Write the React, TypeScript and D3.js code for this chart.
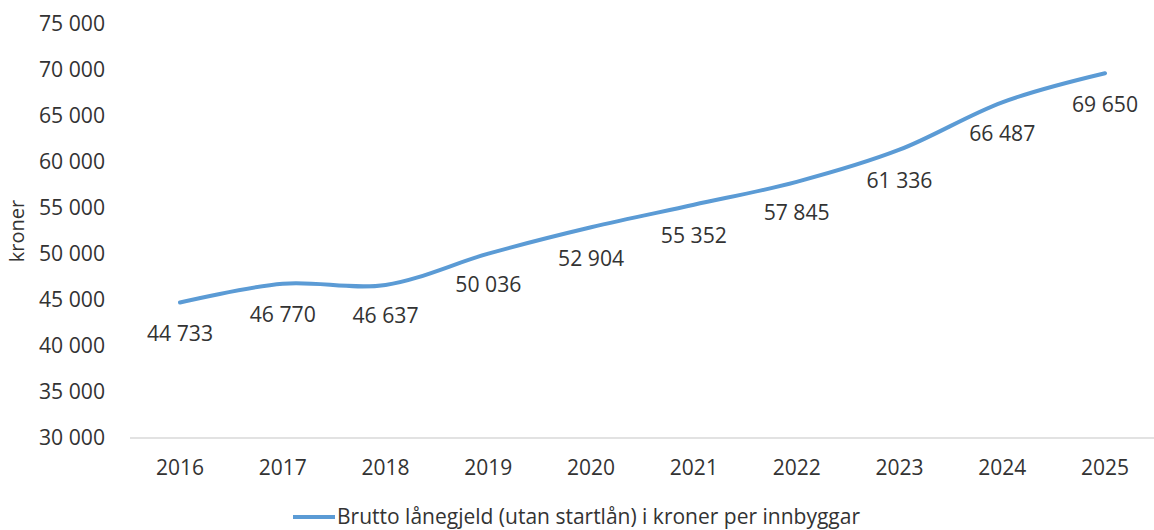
import React from "react";
import * as d3 from "d3";

const years = ["2016", "2017", "2018", "2019", "2020", "2021", "2022", "2023", "2024", "2025"];
const values = [44733, 46770, 46637, 50036, 52904, 55352, 57845, 61336, 66487, 69650];
const yTicks = [30000, 35000, 40000, 45000, 50000, 55000, 60000, 65000, 70000, 75000];
const seriesName = "Brutto lånegjeld (utan startlån) i kroner per innbyggar";
const yTitle = "kroner";

const W = 1154;
const H = 530;
const FONT = "'Open Sans', sans-serif";
const TXT = "#333333";
const LINE = "#5B9BD5";

const fmt = (v: number) => d3.format(",")(v).replace(/,/g, " ");

export default function App() {
  const x = d3.scaleBand<string>().domain(years).range([128.6, 1156.4]);
  const y = d3.scaleLinear().domain([30000, 75000]).range([438, 24]);
  const cx = (d: string) => (x(d) as number) + x.bandwidth() / 2;

  const line = d3
    .line<number>()
    .x((_, i) => cx(years[i]))
    .y((d) => y(d))
    .curve(d3.curveCardinal.tension(0));

  return (
    <svg
      width={W}
      height={H}
      style={{ position: "absolute", left: 0, top: 0, background: "#fff" }}
      fontFamily={FONT}
    >
      <rect width={W} height={H} fill="#fff" />
      {yTicks.map((t) => (
        <text key={t} x={105} y={y(t)} dy="0.35em" textAnchor="end" fontSize={21.2} fill={TXT}>
          {fmt(t)}
        </text>
      ))}
      <text
        transform={`translate(24,${231}) rotate(-90)`}
        textAnchor="middle"
        fontSize={20}
        fill={TXT}
      >
        {yTitle}
      </text>
      <line x1={130} x2={1154} y1={y(30000)} y2={y(30000)} stroke="#d9d9d9" strokeWidth={1.5} />
      {years.map((yr) => (
        <text key={yr} x={cx(yr)} y={468} dy="0.35em" textAnchor="middle" fontSize={21} fill={TXT}>
          {yr}
        </text>
      ))}
      <path d={line(values) || ""} fill="none" stroke={LINE} strokeWidth={4} strokeLinecap="round" />
      {values.map((v, i) => (
        <text
          key={years[i]}
          x={cx(years[i])}
          y={y(v) + 31}
          dy="0.35em"
          textAnchor="middle"
          fontSize={21.2}
          fill={TXT}
        >
          {fmt(v)}
        </text>
      ))}
      <line x1={293} x2={335} y1={517} y2={517} stroke={LINE} strokeWidth={4} />
      <text x={337} y={517} dy="0.35em" fontSize={21} fill={TXT}>
        {seriesName}
      </text>
    </svg>
  );
}
